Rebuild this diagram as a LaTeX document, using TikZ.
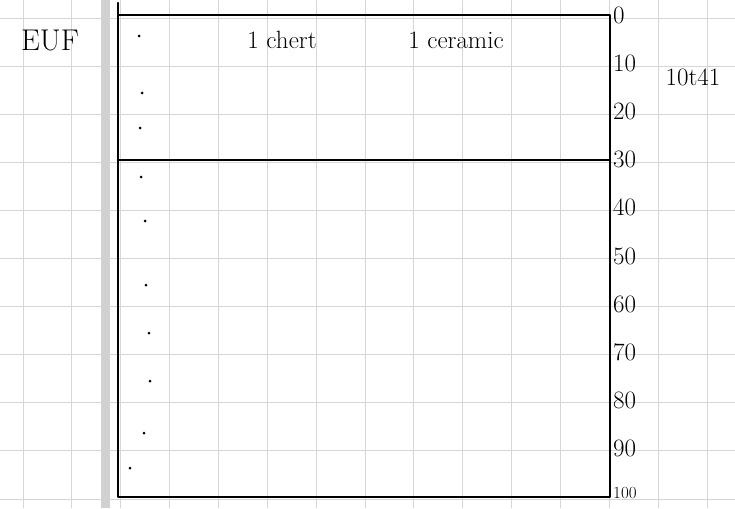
\documentclass[tikz,border=0pt]{standalone}
\usepackage{tikz}
\usetikzlibrary{positioning,calc}
\usepackage{xcolor}
\definecolor{gridgray}{gray}{0.84}
\definecolor{margingray}{gray}{0.82}

\begin{document}
\begin{tikzpicture}[x=1pt,y=-1pt,font=\fontsize{25}{27}\selectfont,
  ink/.style={line width=2.6pt,line cap=round,line join=round},
  tiny dot/.style={circle,fill=black,inner sep=0pt,minimum size=3pt}]
\useasboundingbox (0,0) rectangle (735,508);
\fill[white] (0,0) rectangle (735,508);
% graph paper
\foreach \i in {0,...,14}
  \draw[gridgray,line width=0.9pt] ({23+48.86*\i},0) -- ({23+48.86*\i},508);
\foreach \j in {0,...,10}
  \draw[gridgray,line width=0.9pt] (0,{18+48.1*\j}) -- (735,{18+48.1*\j});
\fill[margingray] (101,0) rectangle (110,508);
% section
\coordinate (TL) at (118,15);
\coordinate (TR) at (610,15);
\coordinate (BR) at (610,497);
\coordinate (BL) at (118,497);
\coordinate (ML) at (118,160);
\coordinate (MR) at (610,160);
\draw[ink] (118,3) -- (TL) -- (TR) -- (BR) -- (BL) -- cycle;
\draw[ink] (ML) -- (MR);
% depth scale
\foreach \v [count=\k from 0] in {0,10,...,90}
  \node[right,inner sep=1pt] (d\v) at (612,{15+48.2*\k}) {\v};
\node[right,inner sep=1pt,font=\fontsize{17}{18}\selectfont] (d100) at (612,493) {100};
\node (unit) at (693,77) {10t41};
\node[font=\fontsize{30}{32}\selectfont] (site) at (50,40) {EUF};
\node (chert) at (282,40) {1 chert};
\node (ceramic) at (456,40) {1 ceramic};
% finds along the wall
\foreach \p in {(139,36),(142,93),(140,128),(141,177),(145,221),(146,285),(149,333),(150,381),(144,433),(130,468)}
  \node[tiny dot] at \p {};
\end{tikzpicture}
\end{document}
